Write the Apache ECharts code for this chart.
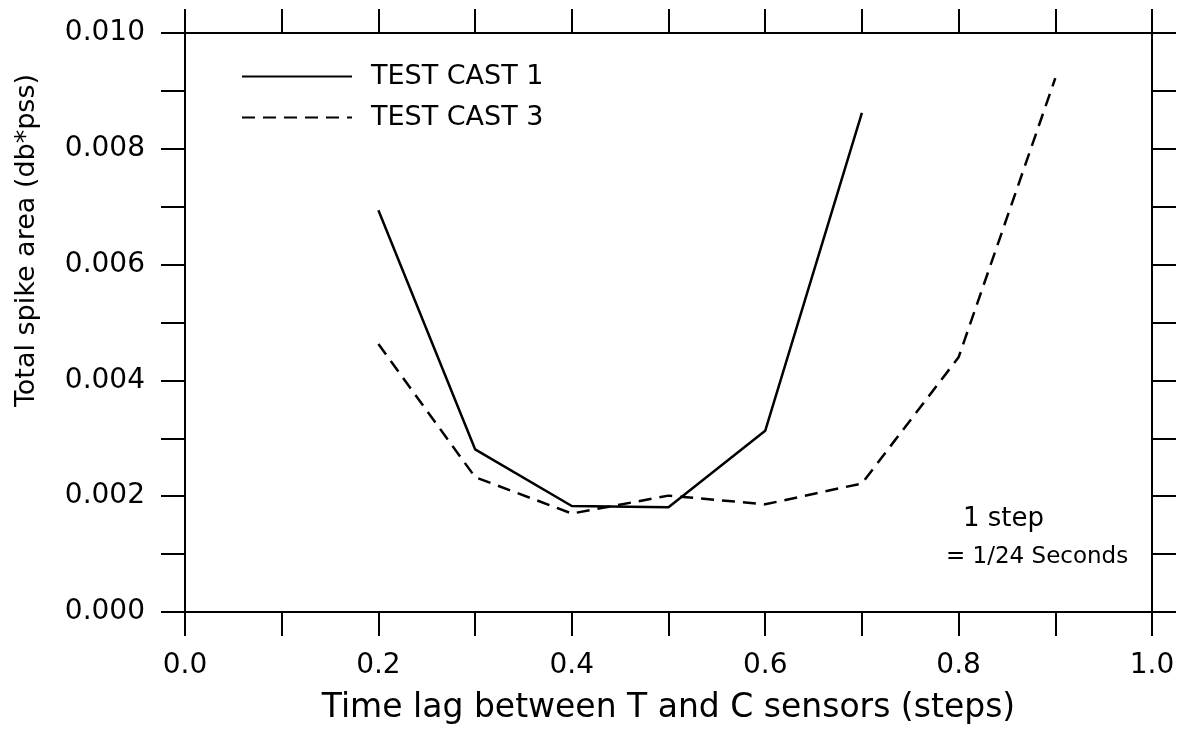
<!DOCTYPE html>
<html>
<head>
<meta charset="utf-8">
<script src="https://cdn.jsdelivr.net/npm/echarts@6/dist/echarts.min.js"></script>
<style>html,body{margin:0;padding:0;background:#fff}#c{width:1178px;height:731px}</style>
</head>
<body>
<div id="c"></div>
<script>
var lags = [0.2, 0.3, 0.4, 0.5, 0.6, 0.7, 0.8, 0.9];
var cast1 = [0.00694, 0.00281, 0.00183, 0.00181, 0.00313, 0.00862];
var cast3 = [0.00463, 0.00233, 0.00170, 0.00201, 0.00186, 0.00222, 0.00440, 0.00922];
var seriesNames = ['TEST CAST 1', 'TEST CAST 3'];
var xTitle = 'Time lag between T and C sensors (steps)';
var yTitle = 'Total spike area (db*pss)';
var note1 = '1 step';
var note2 = '= 1/24 Seconds';

function pairs(vals){ return vals.map(function(v,i){ return [lags[i], v]; }); }

var font = 'DejaVu Sans';
function axisCommon(){
  return {
    axisLine: {onZero: false, lineStyle: {color: '#000', width: 2}},
    axisTick: {show: true, inside: false, length: 24, lineStyle: {color: '#000', width: 2}},
    splitLine: {show: false}
  };
}

var chart = echarts.init(document.getElementById('c'));
chart.setOption({
  animation: false,
  backgroundColor: '#fff',
  grid: {left: 185, right: 26, top: 33, bottom: 119, outerBoundsMode: 'none', containLabel: false},
  legend: {
    orient: 'vertical', left: 236, top: 58, itemWidth: 110, itemHeight: 14, itemGap: 14,
    data: seriesNames,
    itemStyle: {opacity: 0, borderWidth: 0},
    textStyle: {fontFamily: font, fontSize: 27, color: '#000', padding: [0,0,0,14]}
  },
  xAxis: [
    Object.assign(axisCommon(), {type: 'value', min: 0, max: 1, interval: 0.1, position: 'bottom',
      name: xTitle, nameLocation: 'middle', nameGap: 80,
      nameTextStyle: {fontFamily: font, fontSize: 33, color: '#000'},
      axisLabel: {margin: 40, fontFamily: font, fontSize: 28, color: '#000',
        formatter: function(v){ var k = Math.round(v*10); return k % 2 === 0 ? (k/10).toFixed(1) : ''; }}
    }),
    Object.assign(axisCommon(), {type: 'value', min: 0, max: 1, interval: 0.1, position: 'top',
      axisLabel: {show: false}})
  ],
  yAxis: [
    Object.assign(axisCommon(), {type: 'value', min: 0, max: 0.01, interval: 0.001, position: 'left',
      axisLabel: {margin: 40, fontFamily: font, fontSize: 28, color: '#000',
        formatter: function(v){ var k = Math.round(v*1000); return k % 2 === 0 ? (k/1000).toFixed(3) : ''; }}
    }),
    Object.assign(axisCommon(), {type: 'value', min: 0, max: 0.01, interval: 0.001, position: 'right',
      axisLabel: {show: false}})
  ],
  graphic: [
    {type: 'text', left: 13, top: 74, rotation: Math.PI/2,
      style: {text: yTitle, fontFamily: font, fontSize: 27, fill: '#000'}},
    {type: 'text', left: 963, top: 506, style: {text: note1, fontFamily: font, fontSize: 26, fill: '#000'}},
    {type: 'text', left: 946, top: 546, style: {text: note2, fontFamily: font, fontSize: 23, fill: '#000'}}
  ],
  series: [
    {name: seriesNames[0], type: 'line', data: pairs(cast1), symbol: 'none', showSymbol: false,
      lineStyle: {color: '#000', width: 2.5, type: 'solid'}, itemStyle: {color: '#000'}},
    {name: seriesNames[1], type: 'line', data: pairs(cast3), symbol: 'none', showSymbol: false,
      lineStyle: {color: '#000', width: 2.5, type: [13, 8]}, itemStyle: {color: '#000'}}
  ]
});
</script>
</body>
</html>
